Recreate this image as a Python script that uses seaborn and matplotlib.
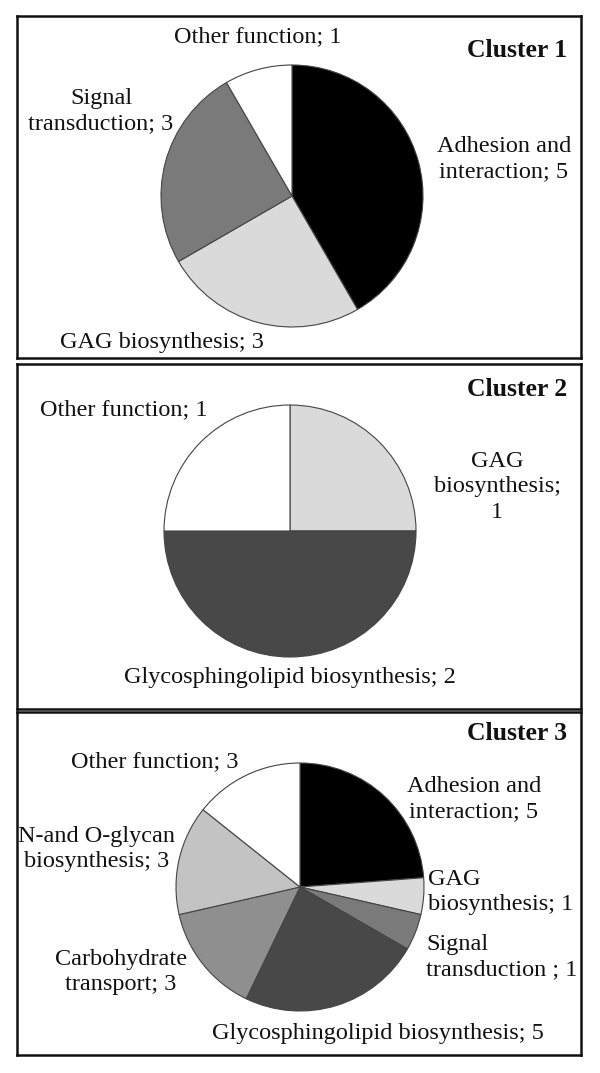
import matplotlib
matplotlib.use("Agg")
import matplotlib.pyplot as plt
import seaborn as sns

sns.set_theme(style="white")
plt.rcParams['font.family'] = ['Liberation Serif', 'DejaVu Serif']

W, H = 600, 1073

# ---- data ----
c1_cats = ["Adhesion and interaction", "GAG biosynthesis", "Signal transduction", "Other function"]
c1_vals = [5, 3, 3, 1]
c1_text = ["Adhesion and\ninteraction", "GAG biosynthesis", "Signal\ntransduction", "Other function"]

c2_cats = ["GAG biosynthesis", "Glycosphingolipid biosynthesis", "Other function"]
c2_vals = [1, 2, 1]
c2_text = ["GAG\nbiosynthesis;\n", "Glycosphingolipid biosynthesis", "Other function"]

c3_cats = ["Adhesion and interaction", "GAG biosynthesis", "Signal transduction",
           "Glycosphingolipid biosynthesis", "Carbohydrate transport",
           "N-and O-glycan biosynthesis", "Other function"]
c3_vals = [5, 1, 1, 5, 3, 3, 3]
c3_text = ["Adhesion and\ninteraction", "GAG\nbiosynthesis", "Signal\ntransduction ",
           "Glycosphingolipid biosynthesis", "Carbohydrate\ntransport",
           "N-and O-glycan\nbiosynthesis", "Other function"]

cat_colors = {
    "Adhesion and interaction": "#000000",
    "GAG biosynthesis": "#dadada",
    "Signal transduction": "#7a7a7a",
    "Other function": "#ffffff",
    "Glycosphingolipid biosynthesis": "#484848",
    "Carbohydrate transport": "#8f8f8f",
    "N-and O-glycan biosynthesis": "#c3c3c3",
}

FS = 17.5
FSB = 18.5

fig = plt.figure(figsize=(W / 100, H / 100), dpi=100)
fig.patch.set_facecolor("white")


def make_panel(y_top, y_bot, x_left=17, x_right=581):
    ax = fig.add_axes([x_left / W, 1 - y_bot / H, (x_right - x_left) / W, (y_bot - y_top) / H])
    return ax, (x_left, x_right, H - y_bot, H - y_top)


def draw(ax, lims, cats, vals, center, r):
    ax.pie(vals, colors=[cat_colors[c] for c in cats], startangle=90, counterclock=False,
           center=(center[0], H - center[1]), radius=r, frame=True,
           wedgeprops=dict(edgecolor="#444444", linewidth=0.8))
    ax.set_xlim(lims[0], lims[1])
    ax.set_ylim(lims[2], lims[3])
    ax.set_aspect("auto")
    ax.set_xticks([])
    ax.set_yticks([])
    for sp in ax.spines.values():
        sp.set_visible(True)
        sp.set_color("#111111")
        sp.set_linewidth(1.8)
    ax.grid(False)


def lab(ax, x, y, s, ha="center", **kw):
    ax.text(x, H - y, s, ha=ha, va="center", fontsize=FS, color="#111111",
            multialignment=ha, linespacing=1.3, **kw)


# ---- Cluster 1 ----
ax1, l1 = make_panel(16, 358)
draw(ax1, l1, c1_cats, c1_vals, (292, 196), 131)
ax1.text(567, H - 50, "Cluster 1", ha="right", va="center", fontsize=FSB, fontweight="bold", color="#111111")
lab(ax1, 504, 159, f"{c1_text[0]}; {c1_vals[0]}")
lab(ax1, 162, 342, f"{c1_text[1]}; {c1_vals[1]}")
lab(ax1, 101, 111, f"{c1_text[2]}; {c1_vals[2]}")
lab(ax1, 258, 37, f"{c1_text[3]}; {c1_vals[3]}")

# ---- Cluster 2 ----
ax2, l2 = make_panel(364, 709)
draw(ax2, l2, c2_cats, c2_vals, (290, 531), 126)
ax2.text(567, H - 390, "Cluster 2", ha="right", va="center", fontsize=FSB, fontweight="bold", color="#111111")
lab(ax2, 497, 487, f"{c2_text[0]}{c2_vals[0]}")
lab(ax2, 290, 678, f"{c2_text[1]}; {c2_vals[1]}")
lab(ax2, 124, 410, f"{c2_text[2]}; {c2_vals[2]}")

# ---- Cluster 3 ----
ax3, l3 = make_panel(712, 1055)
draw(ax3, l3, c3_cats, c3_vals, (300, 887), 124)
ax3.text(567, H - 733, "Cluster 3", ha="right", va="center", fontsize=FSB, fontweight="bold", color="#111111")
lab(ax3, 474, 799, f"{c3_text[0]}; {c3_vals[0]}")
lab(ax3, 428, 892, f"{c3_text[1]}; {c3_vals[1]}", ha="left")
lab(ax3, 426, 957, f"{c3_text[2]}; {c3_vals[2]}", ha="left")
lab(ax3, 378, 1033, f"{c3_text[3]}; {c3_vals[3]}")
lab(ax3, 121, 972, f"{c3_text[4]}; {c3_vals[4]}")
lab(ax3, 97, 849, f"{c3_text[5]}; {c3_vals[5]}")
lab(ax3, 155, 762, f"{c3_text[6]}; {c3_vals[6]}")

fig.savefig("out.png", dpi=100, facecolor="white")
